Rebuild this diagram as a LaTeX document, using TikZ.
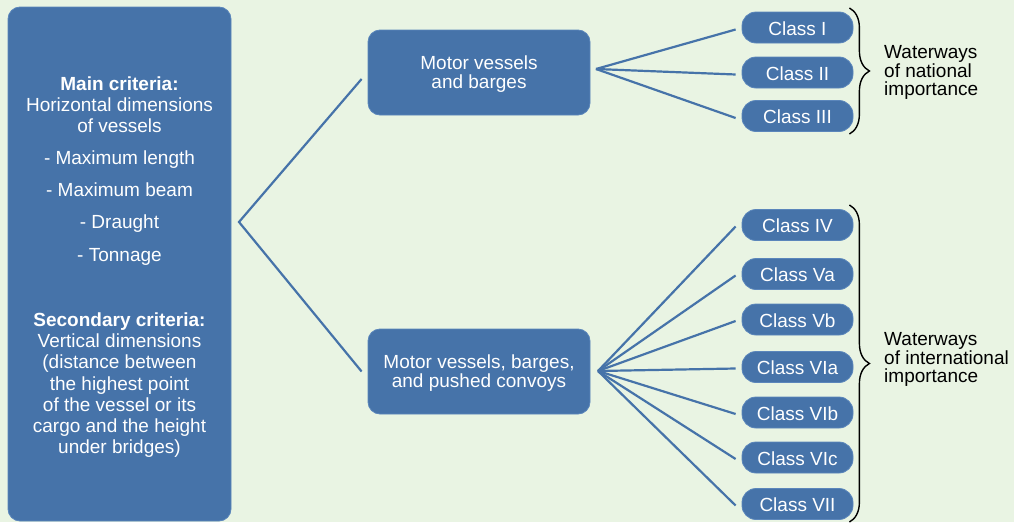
\documentclass[tikz,border=0pt]{standalone}
\usepackage{fontspec}
\setmainfont{Liberation Sans}
\usetikzlibrary{decorations.pathreplacing}
\definecolor{bg}{HTML}{E9F4E3}
\definecolor{boxblue}{HTML}{4673A9}
\definecolor{boxedge}{HTML}{5B86BB}
\tikzset{
  bluebox/.style={fill=boxblue, draw=boxedge, line width=0.8pt, rounded corners=12pt, text=white, align=center, inner sep=0pt, font=\fontsize{19}{18.5}\selectfont},
  classbox/.style={fill=boxblue, draw=boxedge, line width=0.8pt, rounded corners=14pt, text=white, minimum width=111pt, minimum height=31pt, inner sep=0pt, font=\fontsize{19}{19}\selectfont},
  conn/.style={draw=boxblue, line width=2.2pt},
  bracestyle/.style={draw=black, line width=1.4pt, decorate, decoration={brace, amplitude=20pt}},
  label/.style={text=black, align=left, anchor=west, inner sep=0pt, font=\fontsize{19}{17.5}\selectfont}
}
\begin{document}
\begin{tikzpicture}[x=1pt,y=-1pt]
\fill[bg] (0,0) rectangle (1014,522);
\useasboundingbox (0,0) rectangle (1014,522);

% left criteria box
\node[bluebox, minimum width=223pt, minimum height=514pt, font=\fontsize{19}{21.3}\selectfont] (crit) at (119.5,264)
{\rule{0pt}{20pt}\textbf{Main criteria:}\\ Horizontal dimensions\\ of vessels\\[10.7pt] - Maximum length\\[10.7pt] - Maximum beam\\[10.7pt] - Draught\\[11.2pt] - Tonnage\\[43.7pt] \textbf{Secondary criteria:}\\ Vertical dimensions\\ (distance between\\ the highest point\\ of the vessel or its\\ cargo and the height\\ under bridges)};

% middle boxes
\node[bluebox, minimum width=222pt, minimum height=85pt] (m1) at (479,72.5) {\rule{0pt}{17pt}Motor vessels\\ and barges};
\node[bluebox, minimum width=222pt, minimum height=85pt] (m2) at (479,371.5) {\rule{0pt}{17pt}Motor vessels, barges,\\ and pushed convoys};

% class boxes
\node[classbox] (c1) at (797.5,27.5) {\rule{0pt}{15.5pt}Class I};
\node[classbox] (c2) at (797.5,72.5) {\rule{0pt}{15.5pt}Class II};
\node[classbox] (c3) at (797.5,116) {\rule{0pt}{15.5pt}Class III};
\node[classbox] (c4) at (797.5,225) {\rule{0pt}{15.5pt}Class IV};
\node[classbox] (c5) at (797.5,274) {\rule{0pt}{15.5pt}Class Va};
\node[classbox] (c6) at (797.5,319.5) {\rule{0pt}{15.5pt}Class Vb};
\node[classbox] (c7) at (797.5,367) {\rule{0pt}{15.5pt}Class VIa};
\node[classbox] (c8) at (797.5,412.5) {\rule{0pt}{15.5pt}Class VIb};
\node[classbox] (c9) at (797.5,457.5) {\rule{0pt}{15.5pt}Class VIc};
\node[classbox] (c10) at (797.5,504) {\rule{0pt}{15.5pt}Class VII};

% fan apexes
\coordinate (a0) at (239,222);
\coordinate (a1) at (596,69);
\coordinate (a2) at (598,371);

% connectors
\draw[conn] ([xshift=-6pt,yshift=-6.5pt]m1.west) -- (a0) -- ([xshift=-6pt]m2.west);
\foreach \c in {c1,c2,c3}{\draw[conn] (a1) -- ([xshift=-6pt,yshift=-2pt]\c.west);}
\foreach \c in {c4,c5,c6,c7,c8,c9,c10}{\draw[conn] (a2) -- ([xshift=-6pt,yshift=-1.5pt]\c.west);}

% braces
\draw[bracestyle] ([xshift=-4pt]c1.north east |- 0,8) -- ([xshift=-4pt]c3.north east |- 0,134);
\draw[bracestyle] ([xshift=-4pt]c4.north east |- 0,205) -- ([xshift=-4pt]c10.north east |- 0,522);

% labels
\node[label] (l1) at (884,72.5) {Waterways\\ of national\\ importance};
\node[label] (l2) at (884,359.5) {Waterways\\ of international\\ importance};
\end{tikzpicture}
\end{document}
